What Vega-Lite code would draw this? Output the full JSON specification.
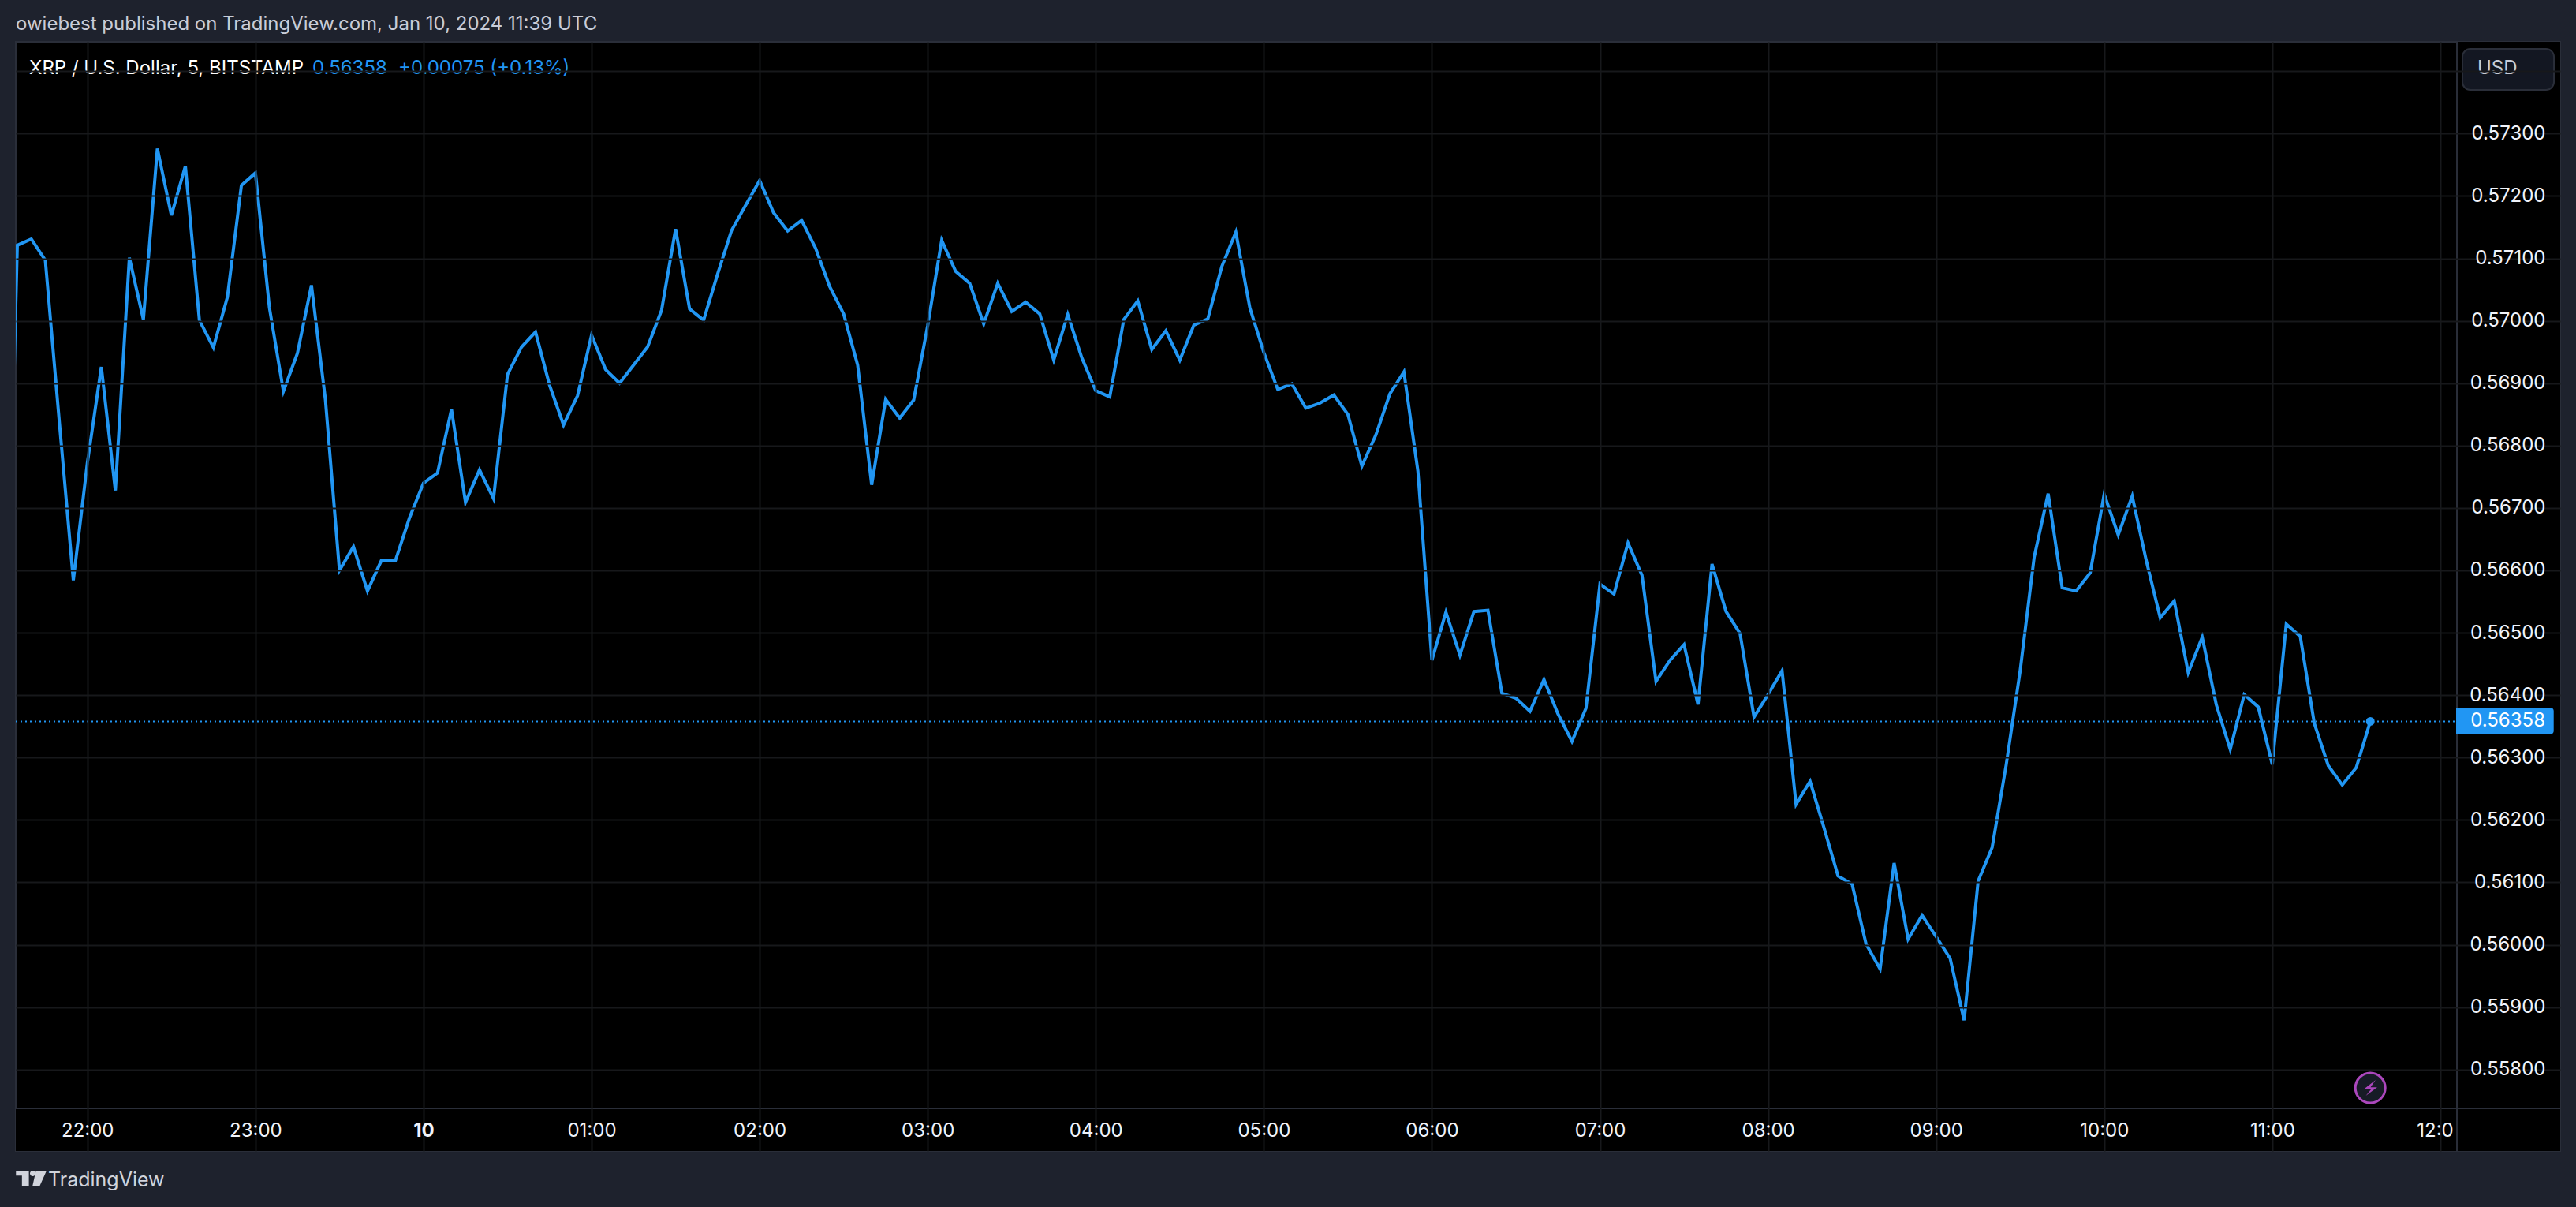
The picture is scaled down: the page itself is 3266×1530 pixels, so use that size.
{
  "$schema": "https://vega.github.io/schema/vega-lite/v6.json",
  "background": "#1e222d",
  "autosize": "none",
  "padding": {"left": 20, "top": 53, "right": 20, "bottom": 71},
  "width": 3226,
  "height": 1406,
  "view": {"fill": "#000000", "stroke": "#2a2e39", "strokeWidth": 2},
  "config": {"font": "Inter"},
  "title": {
    "text": "owiebest published on TradingView.com, Jan 10, 2024 11:39 UTC",
    "anchor": "start",
    "frame": "group",
    "font": "Inter",
    "fontSize": 24,
    "fontWeight": "normal",
    "color": "#c8ccd8",
    "offset": 9
  },
  "datasets": {
    "prices": [
      {"time":"2024-01-09T21:30:00Z","price":0.5625},
      {"time":"2024-01-09T21:35:00Z","price":0.57121},
      {"time":"2024-01-09T21:40:00Z","price":0.57131},
      {"time":"2024-01-09T21:45:00Z","price":0.57097},
      {"time":"2024-01-09T21:50:00Z","price":0.56838},
      {"time":"2024-01-09T21:55:00Z","price":0.56584},
      {"time":"2024-01-09T22:00:00Z","price":0.56772},
      {"time":"2024-01-09T22:05:00Z","price":0.56926},
      {"time":"2024-01-09T22:10:00Z","price":0.56728},
      {"time":"2024-01-09T22:15:00Z","price":0.57101},
      {"time":"2024-01-09T22:20:00Z","price":0.57002},
      {"time":"2024-01-09T22:25:00Z","price":0.57276},
      {"time":"2024-01-09T22:30:00Z","price":0.57169},
      {"time":"2024-01-09T22:35:00Z","price":0.57248},
      {"time":"2024-01-09T22:40:00Z","price":0.57001},
      {"time":"2024-01-09T22:45:00Z","price":0.56957},
      {"time":"2024-01-09T22:50:00Z","price":0.57038},
      {"time":"2024-01-09T22:55:00Z","price":0.57217},
      {"time":"2024-01-09T23:00:00Z","price":0.57237},
      {"time":"2024-01-09T23:05:00Z","price":0.57021},
      {"time":"2024-01-09T23:10:00Z","price":0.56887},
      {"time":"2024-01-09T23:15:00Z","price":0.56948},
      {"time":"2024-01-09T23:20:00Z","price":0.57057},
      {"time":"2024-01-09T23:25:00Z","price":0.56873},
      {"time":"2024-01-09T23:30:00Z","price":0.566},
      {"time":"2024-01-09T23:35:00Z","price":0.56638},
      {"time":"2024-01-09T23:40:00Z","price":0.56567},
      {"time":"2024-01-09T23:45:00Z","price":0.56616},
      {"time":"2024-01-09T23:50:00Z","price":0.56616},
      {"time":"2024-01-09T23:55:00Z","price":0.56684},
      {"time":"2024-01-10T00:00:00Z","price":0.5674},
      {"time":"2024-01-10T00:05:00Z","price":0.56756},
      {"time":"2024-01-10T00:10:00Z","price":0.56858},
      {"time":"2024-01-10T00:15:00Z","price":0.56709},
      {"time":"2024-01-10T00:20:00Z","price":0.56761},
      {"time":"2024-01-10T00:25:00Z","price":0.56715},
      {"time":"2024-01-10T00:30:00Z","price":0.56914},
      {"time":"2024-01-10T00:35:00Z","price":0.56958},
      {"time":"2024-01-10T00:40:00Z","price":0.56982},
      {"time":"2024-01-10T00:45:00Z","price":0.56897},
      {"time":"2024-01-10T00:50:00Z","price":0.56833},
      {"time":"2024-01-10T00:55:00Z","price":0.5688},
      {"time":"2024-01-10T01:00:00Z","price":0.56977},
      {"time":"2024-01-10T01:05:00Z","price":0.56922},
      {"time":"2024-01-10T01:10:00Z","price":0.569},
      {"time":"2024-01-10T01:15:00Z","price":0.56929},
      {"time":"2024-01-10T01:20:00Z","price":0.56958},
      {"time":"2024-01-10T01:25:00Z","price":0.57017},
      {"time":"2024-01-10T01:30:00Z","price":0.57147},
      {"time":"2024-01-10T01:35:00Z","price":0.57019},
      {"time":"2024-01-10T01:40:00Z","price":0.57001},
      {"time":"2024-01-10T01:45:00Z","price":0.57075},
      {"time":"2024-01-10T01:50:00Z","price":0.57145},
      {"time":"2024-01-10T01:55:00Z","price":0.57185},
      {"time":"2024-01-10T02:00:00Z","price":0.57225},
      {"time":"2024-01-10T02:05:00Z","price":0.57173},
      {"time":"2024-01-10T02:10:00Z","price":0.57144},
      {"time":"2024-01-10T02:15:00Z","price":0.57161},
      {"time":"2024-01-10T02:20:00Z","price":0.57116},
      {"time":"2024-01-10T02:25:00Z","price":0.57055},
      {"time":"2024-01-10T02:30:00Z","price":0.57011},
      {"time":"2024-01-10T02:35:00Z","price":0.56929},
      {"time":"2024-01-10T02:40:00Z","price":0.56737},
      {"time":"2024-01-10T02:45:00Z","price":0.56874},
      {"time":"2024-01-10T02:50:00Z","price":0.56844},
      {"time":"2024-01-10T02:55:00Z","price":0.56873},
      {"time":"2024-01-10T03:00:00Z","price":0.56992},
      {"time":"2024-01-10T03:05:00Z","price":0.57129},
      {"time":"2024-01-10T03:10:00Z","price":0.57079},
      {"time":"2024-01-10T03:15:00Z","price":0.5706},
      {"time":"2024-01-10T03:20:00Z","price":0.56995},
      {"time":"2024-01-10T03:25:00Z","price":0.5706},
      {"time":"2024-01-10T03:30:00Z","price":0.57015},
      {"time":"2024-01-10T03:35:00Z","price":0.5703},
      {"time":"2024-01-10T03:40:00Z","price":0.57011},
      {"time":"2024-01-10T03:45:00Z","price":0.56937},
      {"time":"2024-01-10T03:50:00Z","price":0.5701},
      {"time":"2024-01-10T03:55:00Z","price":0.56941},
      {"time":"2024-01-10T04:00:00Z","price":0.56888},
      {"time":"2024-01-10T04:05:00Z","price":0.56878},
      {"time":"2024-01-10T04:10:00Z","price":0.57002},
      {"time":"2024-01-10T04:15:00Z","price":0.57032},
      {"time":"2024-01-10T04:20:00Z","price":0.56954},
      {"time":"2024-01-10T04:25:00Z","price":0.56984},
      {"time":"2024-01-10T04:30:00Z","price":0.56937},
      {"time":"2024-01-10T04:35:00Z","price":0.56993},
      {"time":"2024-01-10T04:40:00Z","price":0.57003},
      {"time":"2024-01-10T04:45:00Z","price":0.57087},
      {"time":"2024-01-10T04:50:00Z","price":0.57142},
      {"time":"2024-01-10T04:55:00Z","price":0.57021},
      {"time":"2024-01-10T05:00:00Z","price":0.56949},
      {"time":"2024-01-10T05:05:00Z","price":0.5689},
      {"time":"2024-01-10T05:10:00Z","price":0.56899},
      {"time":"2024-01-10T05:15:00Z","price":0.5686},
      {"time":"2024-01-10T05:20:00Z","price":0.56868},
      {"time":"2024-01-10T05:25:00Z","price":0.56881},
      {"time":"2024-01-10T05:30:00Z","price":0.5685},
      {"time":"2024-01-10T05:35:00Z","price":0.56767},
      {"time":"2024-01-10T05:40:00Z","price":0.56817},
      {"time":"2024-01-10T05:45:00Z","price":0.56883},
      {"time":"2024-01-10T05:50:00Z","price":0.56918},
      {"time":"2024-01-10T05:55:00Z","price":0.56759},
      {"time":"2024-01-10T06:00:00Z","price":0.56456},
      {"time":"2024-01-10T06:05:00Z","price":0.56533},
      {"time":"2024-01-10T06:10:00Z","price":0.56464},
      {"time":"2024-01-10T06:15:00Z","price":0.56534},
      {"time":"2024-01-10T06:20:00Z","price":0.56536},
      {"time":"2024-01-10T06:25:00Z","price":0.56403},
      {"time":"2024-01-10T06:30:00Z","price":0.56395},
      {"time":"2024-01-10T06:35:00Z","price":0.56374},
      {"time":"2024-01-10T06:40:00Z","price":0.56425},
      {"time":"2024-01-10T06:45:00Z","price":0.5637},
      {"time":"2024-01-10T06:50:00Z","price":0.56326},
      {"time":"2024-01-10T06:55:00Z","price":0.56379},
      {"time":"2024-01-10T07:00:00Z","price":0.56578},
      {"time":"2024-01-10T07:05:00Z","price":0.56562},
      {"time":"2024-01-10T07:10:00Z","price":0.56644},
      {"time":"2024-01-10T07:15:00Z","price":0.56592},
      {"time":"2024-01-10T07:20:00Z","price":0.56422},
      {"time":"2024-01-10T07:25:00Z","price":0.56456},
      {"time":"2024-01-10T07:30:00Z","price":0.56481},
      {"time":"2024-01-10T07:35:00Z","price":0.56385},
      {"time":"2024-01-10T07:40:00Z","price":0.5661},
      {"time":"2024-01-10T07:45:00Z","price":0.56534},
      {"time":"2024-01-10T07:50:00Z","price":0.56499},
      {"time":"2024-01-10T07:55:00Z","price":0.56365},
      {"time":"2024-01-10T08:00:00Z","price":0.56401},
      {"time":"2024-01-10T08:05:00Z","price":0.56439},
      {"time":"2024-01-10T08:10:00Z","price":0.56225},
      {"time":"2024-01-10T08:15:00Z","price":0.56262},
      {"time":"2024-01-10T08:20:00Z","price":0.56187},
      {"time":"2024-01-10T08:25:00Z","price":0.5611},
      {"time":"2024-01-10T08:30:00Z","price":0.56097},
      {"time":"2024-01-10T08:35:00Z","price":0.56001},
      {"time":"2024-01-10T08:40:00Z","price":0.55961},
      {"time":"2024-01-10T08:45:00Z","price":0.56131},
      {"time":"2024-01-10T08:50:00Z","price":0.56009},
      {"time":"2024-01-10T08:55:00Z","price":0.56047},
      {"time":"2024-01-10T09:00:00Z","price":0.56013},
      {"time":"2024-01-10T09:05:00Z","price":0.55978},
      {"time":"2024-01-10T09:10:00Z","price":0.55879},
      {"time":"2024-01-10T09:15:00Z","price":0.56102},
      {"time":"2024-01-10T09:20:00Z","price":0.56156},
      {"time":"2024-01-10T09:25:00Z","price":0.56288},
      {"time":"2024-01-10T09:30:00Z","price":0.56439},
      {"time":"2024-01-10T09:35:00Z","price":0.56621},
      {"time":"2024-01-10T09:40:00Z","price":0.56723},
      {"time":"2024-01-10T09:45:00Z","price":0.56572},
      {"time":"2024-01-10T09:50:00Z","price":0.56567},
      {"time":"2024-01-10T09:55:00Z","price":0.56596},
      {"time":"2024-01-10T10:00:00Z","price":0.56722},
      {"time":"2024-01-10T10:05:00Z","price":0.56657},
      {"time":"2024-01-10T10:10:00Z","price":0.56719},
      {"time":"2024-01-10T10:15:00Z","price":0.56616},
      {"time":"2024-01-10T10:20:00Z","price":0.56524},
      {"time":"2024-01-10T10:25:00Z","price":0.56551},
      {"time":"2024-01-10T10:30:00Z","price":0.56436},
      {"time":"2024-01-10T10:35:00Z","price":0.56493},
      {"time":"2024-01-10T10:40:00Z","price":0.56385},
      {"time":"2024-01-10T10:45:00Z","price":0.56313},
      {"time":"2024-01-10T10:50:00Z","price":0.56401},
      {"time":"2024-01-10T10:55:00Z","price":0.56381},
      {"time":"2024-01-10T11:00:00Z","price":0.56289},
      {"time":"2024-01-10T11:05:00Z","price":0.56514},
      {"time":"2024-01-10T11:10:00Z","price":0.56494},
      {"time":"2024-01-10T11:15:00Z","price":0.56355},
      {"time":"2024-01-10T11:20:00Z","price":0.56287},
      {"time":"2024-01-10T11:25:00Z","price":0.56256},
      {"time":"2024-01-10T11:30:00Z","price":0.56284},
      {"time":"2024-01-10T11:35:00Z","price":0.56358}
    ],
    "gutters": [
      {"time":"2024-01-10T12:05:55Z","time2":"2024-01-10T12:42:48Z","price":0.556694,"price2":0.574471},
      {"time":"2024-01-09T21:34:27Z","time2":"2024-01-10T12:05:55Z","price":0.556694,"price2":0.557377}
    ],
    "hairlines": [
      {"time":"2024-01-09T21:34:27Z","time2":"2024-01-10T12:42:48Z","price":0.557377,"price2":0.557377},
      {"time":"2024-01-10T12:05:55Z","time2":"2024-01-10T12:05:55Z","price":0.556694,"price2":0.574471}
    ],
    "last": [
      {"time":"2024-01-09T21:34:27Z","time2":"2024-01-10T12:05:38Z","price":0.56358}
    ],
    "lastDot": [
      {"time":"2024-01-10T11:35:00Z","price":0.56358}
    ],
    "lastTag": [
      {"time":"2024-01-10T12:05:38Z","time2":"2024-01-10T12:40:28Z","price":0.563374,"price2":0.5638}
    ],
    "usdBox": [
      {"time":"2024-01-10T12:07:53Z","time2":"2024-01-10T12:40:33Z","price":0.5737,"price2":0.574357}
    ],
    "icon": [
      {"time":"2024-01-10T11:35:00Z","price":0.557705}
    ],
    "logo": [
      {"time":"2024-01-09T21:39:57Z","price":0.556251}
    ],
    "labels": [
      {"kind":"symbol","time":"2024-01-09T21:39:15Z","price":0.574035,"label":"XRP / U.S. Dollar, 5, BITSTAMP"},
      {"kind":"value","time":"2024-01-09T23:20:20Z","price":0.574035,"label":"0.56358"},
      {"kind":"value","time":"2024-01-09T23:51:01Z","price":0.574035,"label":"+0.00075 (+0.13%)"},
      {"kind":"usd","time":"2024-01-10T12:13:14Z","price":0.574041,"label":"USD"},
      {"kind":"footer","time":"2024-01-09T21:46:00Z","price":0.556226,"label":"TradingView"},
      {"kind":"tag","time":"2024-01-10T12:37:27Z","price":0.56358,"label":"0.56358"}
    ]
  },
  "encoding": {
    "x": {
      "field": "time",
      "type": "temporal",
      "scale": {"type": "utc", "domain": ["2024-01-09T21:34:27Z", "2024-01-10T12:42:48Z"], "nice": false},
      "axis": {
        "title": null,
        "orient": "bottom",
        "zindex": 1,
        "values": [
          "2024-01-09T22:00:00Z", "2024-01-09T23:00:00Z", "2024-01-10T00:00:00Z",
          "2024-01-10T01:00:00Z", "2024-01-10T02:00:00Z", "2024-01-10T03:00:00Z",
          "2024-01-10T04:00:00Z", "2024-01-10T05:00:00Z", "2024-01-10T06:00:00Z",
          "2024-01-10T07:00:00Z", "2024-01-10T08:00:00Z", "2024-01-10T09:00:00Z",
          "2024-01-10T10:00:00Z", "2024-01-10T11:00:00Z", "2024-01-10T12:00:00Z"
        ],
        "labelExpr": "utcFormat(datum.value, '%H') == '00' ? '10' : utcFormat(datum.value, '%H') == '12' ? '12:0' : utcFormat(datum.value, '%H:%M')",
        "labelFontWeight": {"condition": {"test": "utcFormat(datum.value, '%H') == '00'", "value": "bold"}, "value": "normal"},
        "labelOffset": {"condition": {"test": "utcFormat(datum.value, '%H') == '12'", "value": -7}, "value": 0},
        "labelFont": "Inter",
        "labelFontSize": 24,
        "labelColor": "#f0f3fa",
        "labelBaseline": "middle",
        "labelPadding": -26,
        "labelOverlap": false,
        "labelBound": false,
        "labelFlush": false,
        "ticks": false,
        "domain": false,
        "grid": true,
        "gridColor": "#17181b",
        "gridWidth": 2
      }
    },
    "y": {
      "field": "price",
      "type": "quantitative",
      "scale": {"domain": [0.556694, 0.574471], "nice": false, "zero": false},
      "axis": {
        "title": null,
        "orient": "right",
        "zindex": 1,
        "values": [0.558, 0.559, 0.56, 0.561, 0.562, 0.563, 0.564, 0.565, 0.566, 0.567, 0.568, 0.569, 0.57, 0.571, 0.572, 0.573, 0.574],
        "labelExpr": "datum.value > 0.5735 ? '' : format(datum.value, '.5f')",
        "labelFont": "Inter",
        "labelFontSize": 24,
        "labelColor": "#f0f3fa",
        "labelAlign": "right",
        "labelPadding": -19,
        "labelOverlap": false,
        "labelBound": false,
        "labelFlush": false,
        "ticks": false,
        "domain": false,
        "grid": true,
        "gridColor": "#17181b",
        "gridWidth": 2
      }
    }
  },
  "layer": [
    {
      "data": {"name": "gutters"},
      "mark": {"type": "rect", "fill": "#000000"},
      "encoding": {"x2": {"field": "time2"}, "y2": {"field": "price2"}}
    },
    {
      "data": {"name": "hairlines"},
      "mark": {"type": "rule", "stroke": "#2a2e39", "strokeWidth": 2},
      "encoding": {"x2": {"field": "time2"}, "y2": {"field": "price2"}}
    },
    {
      "data": {"name": "last"},
      "mark": {"type": "rule", "stroke": "#2196f3", "strokeWidth": 2, "strokeDash": [2, 4]},
      "encoding": {"x2": {"field": "time2"}}
    },
    {
      "data": {"name": "prices"},
      "mark": {"type": "line", "stroke": "#2196f3", "strokeWidth": 4, "clip": true},
      "encoding": {}
    },
    {
      "data": {"name": "lastDot"},
      "mark": {"type": "point", "filled": true, "fill": "#2196f3", "opacity": 1, "shape": "circle", "size": 121},
      "encoding": {}
    },
    {
      "data": {"name": "lastTag"},
      "mark": {"type": "rect", "fill": "#2196f3", "cornerRadiusTopRight": 4, "cornerRadiusBottomRight": 4},
      "encoding": {"x2": {"field": "time2"}, "y2": {"field": "price2"}}
    },
    {
      "data": {"name": "usdBox"},
      "mark": {"type": "rect", "fill": "#131722", "stroke": "#2a2e39", "strokeWidth": 2, "cornerRadius": 10},
      "encoding": {"x2": {"field": "time2"}, "y2": {"field": "price2"}}
    },
    {
      "data": {"name": "icon"},
      "mark": {"type": "point", "filled": true, "fill": "#171b26", "stroke": "#ab47bc", "strokeWidth": 3, "opacity": 1, "shape": "circle", "size": 1444},
      "encoding": {}
    },
    {
      "data": {"name": "icon"},
      "mark": {"type": "point", "filled": true, "fill": "#ab47bc", "strokeWidth": 0, "opacity": 1, "size": 400, "shape": "M0.67,-1L-0.83,0.17L0.1,0.17L-0.57,1L0.87,-0.07L0.03,-0.07Z"},
      "encoding": {}
    },
    {
      "data": {"name": "logo"},
      "mark": {"type": "point", "filled": true, "fill": "#d1d4dc", "strokeWidth": 0, "opacity": 1, "size": 1521, "clip": false, "shape": "M-0.99,-0.51L-0.15,-0.51L-0.15,0.51L-0.6,0.51L-0.6,-0.2L-0.99,-0.2ZM-0.08,-0.33a0.18,0.18 0 1 0 0.36,0a0.18,0.18 0 1 0 -0.36,0ZM0.31,-0.51L1,-0.51L0.54,0.51L0.08,0.51Z"},
      "encoding": {}
    },
    {
      "data": {"name": "labels"},
      "transform": [{"filter": "datum.kind == 'symbol'"}],
      "mark": {"type": "text", "align": "left", "baseline": "middle", "font": "Inter", "fontSize": 24, "fill": "#ffffff"},
      "encoding": {"text": {"field": "label"}}
    },
    {
      "data": {"name": "labels"},
      "transform": [{"filter": "datum.kind == 'value'"}],
      "mark": {"type": "text", "align": "left", "baseline": "middle", "font": "Inter", "fontSize": 24, "fill": "#2196f3"},
      "encoding": {"text": {"field": "label"}}
    },
    {
      "data": {"name": "labels"},
      "transform": [{"filter": "datum.kind == 'usd'"}],
      "mark": {"type": "text", "align": "left", "baseline": "middle", "font": "Inter", "fontSize": 24, "fill": "#c8ccd8"},
      "encoding": {"text": {"field": "label"}}
    },
    {
      "data": {"name": "labels"},
      "transform": [{"filter": "datum.kind == 'footer'"}],
      "mark": {"type": "text", "align": "left", "baseline": "middle", "font": "Inter", "fontSize": 25, "fontWeight": 400, "fill": "#d1d4dc"},
      "encoding": {"text": {"field": "label"}}
    },
    {
      "data": {"name": "labels"},
      "transform": [{"filter": "datum.kind == 'tag'"}],
      "mark": {"type": "text", "align": "right", "baseline": "middle", "font": "Inter", "fontSize": 24, "fill": "#ffffff"},
      "encoding": {"text": {"field": "label"}}
    }
  ]
}
